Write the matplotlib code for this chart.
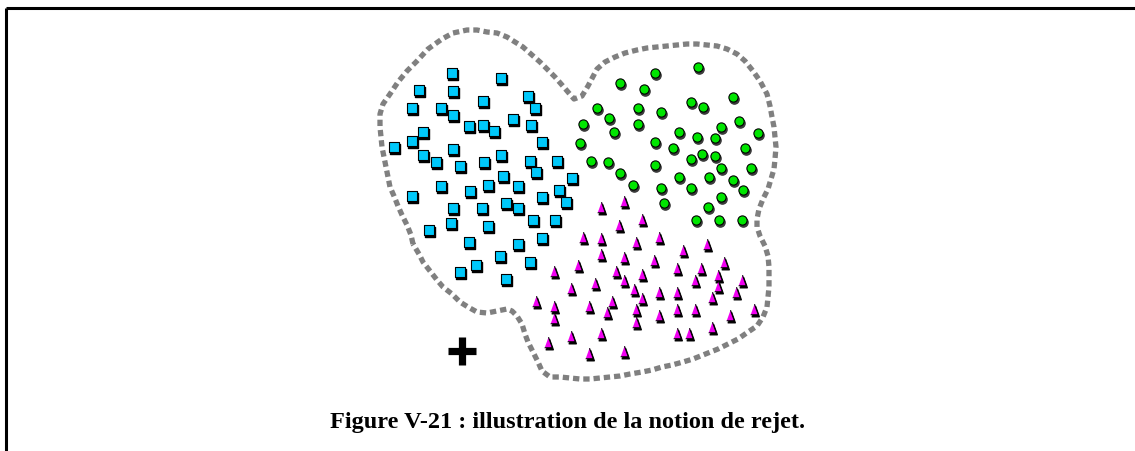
import matplotlib
matplotlib.use("Agg")
import matplotlib.pyplot as plt
import matplotlib.transforms as mtransforms
import numpy as np

# classe 1 : carrés bleus
sq_x = [452, 501, 419, 453, 528, 483, 412, 441, 535, 453, 513, 423, 469, 483, 494, 531,
        412, 394, 542, 423, 453, 436, 460, 484, 501, 530, 557, 503, 536, 572, 441, 470,
        488, 518, 559, 412, 542, 453, 482, 506, 518, 566, 451, 429, 488, 533, 555, 469,
        518, 542, 500, 476, 530, 460, 506]
sq_y = [74, 79, 91, 92, 97, 102, 109, 109, 109, 116, 120, 133, 127, 126, 132, 126,
        142, 148, 143, 156, 150, 163, 167, 163, 156, 162, 162, 177, 173, 179, 187, 192,
        186, 187, 191, 197, 198, 209, 209, 204, 209, 203, 224, 231, 227, 221, 221, 243,
        245, 239, 257, 266, 263, 273, 280]

# classe 2 : ronds verts
ci_x = [698, 655, 620, 644, 733, 691, 703, 597, 638, 661, 609, 739, 583, 638, 614, 679,
        721, 758, 697, 715, 580, 655, 673, 745, 702, 715, 691, 591, 608, 655, 721, 751,
        620, 679, 709, 733, 633, 661, 691, 743, 721, 664, 708, 696, 719, 742]
ci_y = [68, 74, 84, 90, 98, 103, 108, 109, 109, 113, 119, 122, 125, 125, 133, 133,
        128, 134, 138, 139, 144, 143, 149, 149, 155, 157, 160, 162, 163, 166, 169, 169,
        174, 178, 178, 181, 186, 189, 189, 191, 198, 204, 208, 221, 221, 221]

# classe 3 : triangles magenta
tr_x = [624, 601, 642, 619, 583, 601, 636, 659, 707, 683, 601, 624, 654, 724, 554, 578,
        616, 677, 701, 642, 624, 718, 695, 742, 595, 571, 634, 718, 659, 677, 736, 642,
        712, 536, 612, 554, 589, 636, 677, 695, 754, 607, 659, 730, 554, 636, 712, 548,
        571, 601, 677, 689, 589, 624]
tr_y = [202, 208, 220, 226, 238, 239, 243, 238, 245, 251, 255, 258, 261, 263, 272, 266,
        272, 269, 269, 275, 281, 276, 281, 281, 284, 289, 290, 287, 293, 293, 293, 299,
        298, 302, 302, 307, 307, 310, 310, 310, 310, 313, 316, 316, 319, 323, 328, 343,
        337, 334, 334, 334, 354, 352]

# point rejeté
rej_x = [462]
rej_y = [352]

# contour de la zone des classes connues
hull_x = [413, 411, 407, 402, 398, 394, 390, 388, 386, 384, 382, 381, 380, 380, 383, 390,
          398, 407, 417, 428, 442, 453, 467, 477, 487, 497, 507, 515, 523, 532, 540, 547,
          555, 562, 568, 574, 582, 588, 597, 605, 615, 625, 637, 647, 657, 667, 677, 687,
          697, 707, 717, 727, 737, 745, 753, 760, 767, 770, 772, 774, 775, 776, 775, 774,
          771, 768, 763, 759, 757, 757, 760, 765, 768, 769, 769, 769, 768, 767, 763, 757,
          748, 738, 728, 718, 703, 693, 683, 672, 662, 652, 642, 630, 620, 610, 600, 590,
          580, 570, 560, 550, 542, 538, 533, 528, 525, 522, 517, 512, 507, 497, 487, 477,
          468, 460, 452, 443, 437, 430, 423, 419, 413]
hull_y = [245, 236, 226, 216, 207, 197, 188, 178, 168, 158, 148, 138, 128, 115, 105, 95,
          83, 72, 62, 50, 40, 34, 31, 31, 33, 34, 38, 43, 48, 56, 63, 70,
          78, 86, 93, 100, 97, 87, 70, 63, 58, 54, 51, 49, 48, 47, 46, 45,
          45, 46, 47, 50, 55, 62, 72, 82, 95, 107, 118, 128, 138, 148, 160, 170,
          180, 190, 200, 210, 220, 228, 237, 247, 257, 268, 278, 288, 298, 308, 318, 327,
          333, 340, 345, 350, 356, 360, 363, 366, 368, 371, 373, 375, 377, 378, 379, 380,
          380, 379, 378, 378, 372, 363, 353, 343, 335, 325, 317, 312, 310, 312, 314, 313,
          308, 303, 295, 288, 281, 272, 263, 255, 245]

caption = "Figure V-21 : illustration de la notion de rejet."

fig = plt.figure(figsize=(11.35, 4.52), dpi=100)
ax = fig.add_axes([0, 0, 1, 1])
ax.set_xlim(0, 1135)
ax.set_ylim(452, 0)
ax.axis('off')

# cadre (haut et gauche)
ax.plot([5.5, 1135], [8.8, 8.8], color='black', lw=2.2, solid_capstyle='butt')
ax.plot([5.5, 5.5], [8.8, 452], color='black', lw=2.2, solid_capstyle='butt')

ax.plot(hull_x, hull_y, color='#808080', lw=3.8, linestyle=(0, (1.2, 0.75)),
        dash_capstyle='butt', solid_joinstyle='round')

shadow = mtransforms.offset_copy(ax.transData, fig=fig, x=0.8, y=-1.6, units='dots')
tri = [(-0.72, -1), (0.72, -1), (0, 1)]

ax.scatter(sq_x, sq_y, s=44, marker='s', color='black', transform=shadow, zorder=3)
ax.scatter(sq_x, sq_y, s=44, marker='s', color='#00c8fa', edgecolors='black',
           linewidths=0.8, zorder=4)

ax.scatter(ci_x, ci_y, s=44, marker='o', color='#3a3a3a', transform=shadow, zorder=3)
ax.scatter(ci_x, ci_y, s=44, marker='o', color='#00e600', edgecolors='black',
           linewidths=0.8, zorder=4)

ax.scatter(tr_x, tr_y, s=58, marker=tri, color='black', transform=shadow, zorder=3)
ax.scatter(tr_x, tr_y, s=58, marker=tri, color='#f000f0', edgecolors='black',
           linewidths=0.8, zorder=4)

ax.plot(rej_x, rej_y, linestyle='none', marker='+', ms=19.5, mew=5.2,
        color='black', zorder=4)

ax.text(568, 423, caption, ha='center', va='center', fontsize=17.5,
        fontweight='bold', family='Liberation Serif')

fig.savefig('out.png', dpi=100)
